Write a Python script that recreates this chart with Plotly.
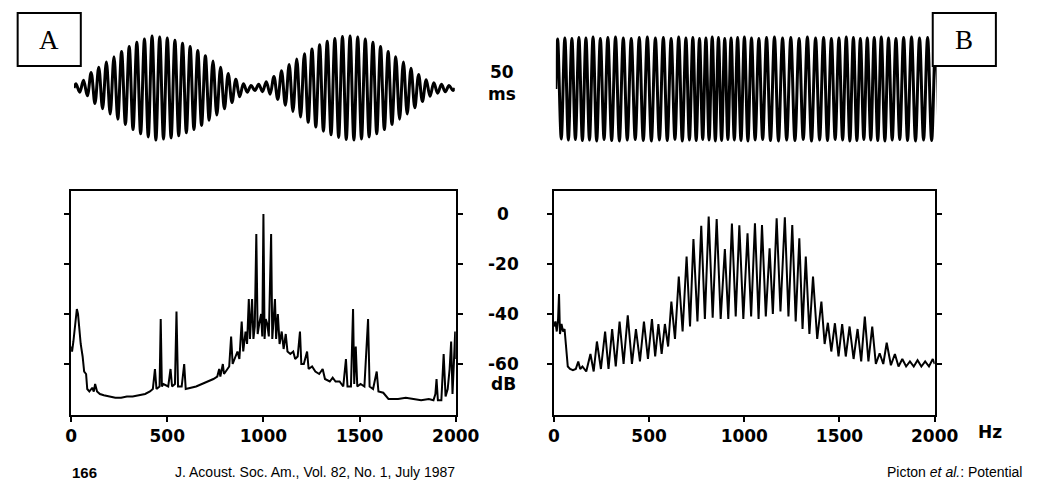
import plotly.graph_objects as go

W, H = 1050, 496

# ---------------- data ----------------
# Waveform A: 1000 Hz carrier, 50 ms window; envelope (peak amplitude) per carrier cycle
A_CARRIER_PERIOD_MS = 1.0
A_env = [0.08, 0.15, 0.30, 0.40, 0.50, 0.60, 0.70, 0.80, 0.88, 0.94,
         1.00, 0.98, 0.96, 0.92, 0.86, 0.80, 0.72, 0.62, 0.52, 0.40,
         0.28, 0.17, 0.08, 0.05, 0.07, 0.12, 0.22, 0.33, 0.45, 0.56,
         0.66, 0.75, 0.83, 0.90, 0.95, 0.99, 1.00, 0.98, 0.94, 0.88,
         0.80, 0.70, 0.60, 0.50, 0.38, 0.26, 0.16, 0.10, 0.07, 0.05]

# Waveform B: constant-amplitude tone with varying period (ms per cycle)
B_periods = [0.95, 0.93, 0.92, 0.92, 0.93, 0.95, 0.98, 1.00, 1.02, 1.04,
             1.05, 1.06, 1.06, 1.05, 1.03, 1.00, 0.96, 0.92, 0.88, 0.85,
             0.83, 0.82, 0.82, 0.83, 0.85, 0.88, 0.92, 0.96, 1.00, 1.03,
             1.06, 1.08, 1.09, 1.09, 1.08, 1.06, 1.03, 1.00, 0.97, 0.94,
             0.92, 0.91, 0.91, 0.92, 0.94, 0.97, 1.00, 1.03, 1.05, 1.06,
             1.06, 1.05]
B_amp = [0.96, 0.98, 0.97, 0.99, 0.98, 1.00, 0.97, 0.99, 1.00, 0.98,
         0.97, 0.99, 1.00, 0.98, 0.99, 0.97, 1.00, 0.98, 0.99, 0.97,
         0.98, 1.00, 0.99, 0.97, 0.98, 0.99, 1.00, 0.98, 0.97, 0.99,
         1.00, 0.98, 0.99, 0.97, 1.00, 0.98, 0.99, 0.97, 0.98, 1.00,
         0.99, 0.97, 0.98, 0.99, 1.00, 0.98, 0.97, 0.99, 1.00, 0.98,
         0.99, 0.98]

# Spectrum A (Hz, dB)
A_freq = [0, 5, 12, 20, 30, 36, 42, 50, 60, 68, 78, 84, 95, 110, 118, 125, 135, 150, 170, 200,
          230, 260, 290, 320, 350, 385, 410, 425, 436, 444, 460, 466, 472, 480, 505, 517, 525, 540, 548, 556,
          575, 588, 596, 620, 650, 680, 710, 740, 760, 770, 776, 789, 795, 810, 822, 832, 840, 855, 865, 875,
          887, 895, 907, 915, 924, 930, 941, 948, 955, 963, 970, 978, 988, 994, 1000, 1006, 1012, 1020, 1028, 1040,
          1046, 1053, 1060, 1066, 1075, 1084, 1095, 1105, 1116, 1125, 1140, 1155, 1165, 1178, 1190, 1197, 1210, 1227, 1235, 1253,
          1270, 1290, 1308, 1320, 1345, 1360, 1375, 1396, 1415, 1429, 1437, 1455, 1466, 1472, 1480, 1488, 1505, 1525, 1544, 1552,
          1570, 1589, 1598, 1623, 1650, 1700, 1740, 1780, 1820, 1860, 1884, 1894, 1900, 1907, 1925, 1937, 1947, 1958, 1968, 1976,
          1983, 1990, 1997, 2000]
A_db = [-53, -55, -51, -46, -38, -40, -47, -52, -57, -63, -64, -70, -71, -69.5, -71, -68, -71, -72, -72.5, -73,
        -73.5, -73.5, -73, -73, -72.5, -72, -71, -70, -62, -70, -69, -42, -69, -68, -69, -62, -69, -68, -39, -69,
        -69, -60, -70, -69.5, -69, -68, -67, -66, -65, -62, -65, -60, -64, -62, -61, -49, -60, -57, -55, -58,
        -43, -55, -47, -52, -34, -50, -34, -50, -45, -8, -48, -44, -40, -49, 0, -50, -42, -44, -49, -8,
        -50, -42, -34, -50, -40, -52, -47, -54, -48, -55, -56, -55, -58, -57, -47, -60, -60, -55, -62, -61,
        -63, -64, -62, -66, -67, -65.5, -67, -67, -69, -58, -69, -69, -38, -68, -53, -69, -68, -69, -42, -69,
        -70, -63, -71, -71.5, -74, -74, -73.5, -74, -74.5, -74, -74.5, -72, -66, -74.5, -74.5, -56, -73, -70, -62, -51,
        -72, -60, -47, -58]

# Spectrum B (Hz, dB)
B_freq = [0, 8, 15, 22, 27, 32, 40, 48, 56, 62, 73, 85, 100, 115, 128, 138, 150, 170, 192, 209,
          226, 247, 269, 287, 306, 325, 345, 366, 388, 410, 431, 452, 473, 494, 515, 532, 549, 566, 583, 600,
          617, 636, 656, 676, 697, 715, 733, 754, 774, 793, 813, 834, 855, 876, 898, 916, 935, 955, 974, 995,
          1017, 1036, 1056, 1075, 1093, 1113, 1133, 1150, 1170, 1190, 1213, 1232, 1252, 1270, 1289, 1306, 1323, 1342, 1361, 1383,
          1405, 1422, 1439, 1457, 1476, 1495, 1514, 1533, 1553, 1574, 1595, 1614, 1633, 1652, 1672, 1691, 1711, 1730, 1748, 1770,
          1791, 1810, 1830, 1850, 1870, 1890, 1910, 1930, 1950, 1970, 1990, 2000]
B_db = [-45, -43, -47, -42, -32, -48, -44, -47, -46, -52, -61, -62, -62.5, -62, -59, -62, -61, -63, -56, -63,
        -51, -62, -47, -62, -46, -61, -43, -60, -40.5, -60, -46, -59, -43, -58, -42, -57, -44, -56, -44, -53,
        -35, -50, -25, -47, -17, -45, -10, -43, -4.7, -42, -1, -41.5, -2, -42, -14, -42, -3.8, -41, -4.5, -42,
        -7.7, -41, -3.7, -42, -4.4, -41, -13.7, -40, -1.7, -39, -1.3, -41, -4.4, -43, -9.7, -46, -17, -48, -25, -50,
        -35, -52, -43.5, -55, -43.7, -57, -44, -57, -45, -58, -46, -59, -41, -59, -45, -60, -55.7, -60, -51.5, -60.5,
        -56, -61, -58, -61, -59, -61, -58.5, -61, -59, -61, -58, -60]

freq_ticks = [0, 500, 1000, 1500, 2000]
freq_tick_text = ["0", "500", "1000", "1500", "2000"]
db_ticks = [0, -20, -40, -60]
db_tick_text = ["0", "-20", "-40", "-60"]


# ---------------- helpers ----------------
def dom_x(a, b):
    return [a / W, b / W]


def dom_y(top, bottom):
    return [1 - bottom / H, 1 - top / H]


def wave(periods, amps):
    t, y, cur = [0.0], [0.0], 0.0
    for p, a in zip(periods, amps):
        t += [cur + 0.25 * p, cur + 0.75 * p]
        y += [a, -a]
        cur += p
    t.append(cur)
    y.append(0.0)
    return t, y


tA, yA = wave([A_CARRIER_PERIOD_MS] * len(A_env), A_env)
tB, yB = wave(B_periods, B_amp)

fig = go.Figure()
fig.add_trace(go.Scatter(x=tA, y=yA, mode="lines", line=dict(color="black", width=3, shape="spline", smoothing=1),
                         xaxis="x", yaxis="y", hoverinfo="skip"))
fig.add_trace(go.Scatter(x=tB, y=yB, mode="lines", line=dict(color="black", width=3, shape="spline", smoothing=1),
                         xaxis="x2", yaxis="y2", hoverinfo="skip"))
fig.add_trace(go.Scatter(x=A_freq, y=A_db, mode="lines", line=dict(color="black", width=2),
                         xaxis="x3", yaxis="y3", hoverinfo="skip"))
fig.add_trace(go.Scatter(x=B_freq, y=B_db, mode="lines", line=dict(color="black", width=2),
                         xaxis="x4", yaxis="y4", hoverinfo="skip"))

wave_y_range = [-60 / 52, 60 / 52]
hidden = dict(visible=False, showgrid=False, zeroline=False, fixedrange=True)

tickfont = dict(family="DejaVu Sans", size=17, color="black", weight="bold")
spec_x = dict(range=[0, 2000], tickvals=freq_ticks, ticktext=freq_tick_text, ticks="outside",
              ticklen=5, tickwidth=2, tickcolor="black", showline=True, linewidth=2, linecolor="black",
              mirror=True, showgrid=False, zeroline=False, tickfont=tickfont)
# 0 dB at y=214 px, -60 dB at 364 px -> 2.5 px/dB
spec_y = dict(tickvals=db_ticks, ticks="outside", ticklen=5, tickwidth=2, tickcolor="black",
              showline=True, linewidth=2, linecolor="black", mirror="ticks", showgrid=False,
              zeroline=False, showticklabels=False)

fig.update_layout(
    width=W, height=H, margin=dict(l=0, r=0, t=0, b=0),
    paper_bgcolor="white", plot_bgcolor="white", showlegend=False,
    xaxis=dict(domain=dom_x(70, 462), range=[0, 50], **hidden),
    yaxis=dict(domain=dom_y(28, 148), range=wave_y_range, **hidden),
    xaxis2=dict(domain=dom_x(566, 958), range=[0, 50], **hidden),
    yaxis2=dict(domain=dom_y(29, 149), range=wave_y_range, **hidden),
    xaxis3=dict(domain=dom_x(67, 463), anchor="y3", **spec_x),
    yaxis3=dict(domain=dom_y(191, 415), anchor="x3", range=[-(415 - 214) / 2.5, (214 - 191) / 2.5], **spec_y),
    xaxis4=dict(domain=dom_x(564, 956), anchor="y4", **spec_x),
    yaxis4=dict(domain=dom_y(191, 415), anchor="x4", range=[-(415 - 214) / 2.5, (214 - 191) / 2.5], **spec_y),
)

# boxes A and B
for x0, x1 in [(12, 77), (954, 1019)]:
    fig.add_shape(type="rect", xref="paper", yref="paper", x0=x0 / W, x1=x1 / W,
                  y0=1 - 66 / H, y1=1 - 13 / H, line=dict(color="black", width=2),
                  fillcolor="white", layer="above")


def ann(text, x, y, size=17, family="DejaVu Sans", weight="bold", xanchor="center", **kw):
    fig.add_annotation(text=text, x=x / W, y=1 - y / H, xref="paper", yref="paper", showarrow=False,
                       xanchor=xanchor, yanchor="middle",
                       font=dict(family=family, size=size, color="black", weight=weight), **kw)


ann("A", 44.5, 40, size=27, family="Liberation Serif", weight="normal")
ann("B", 986.5, 40, size=27, family="Liberation Serif", weight="normal")

ann("50", 511, 72)
ann("ms", 511, 94)
for v, txt in zip(db_ticks, db_tick_text):
    ann(txt, 512, 214 - v * 2.5)
ann("dB", 512, 384)
ann("Hz", 1013, 432)

ann("166", 66, 472, size=15, family="Liberation Sans", weight="bold", xanchor="left")
ann("J. Acoust. Soc. Am., Vol. 82, No. 1, July 1987", 172, 472, size=14, family="Liberation Sans",
    weight="normal", xanchor="left")
ann("Picton <i>et al.</i>: Potential", 1048, 472, size=14, family="Liberation Sans", weight="normal",
    xanchor="right")

fig.write_html("out.html")
